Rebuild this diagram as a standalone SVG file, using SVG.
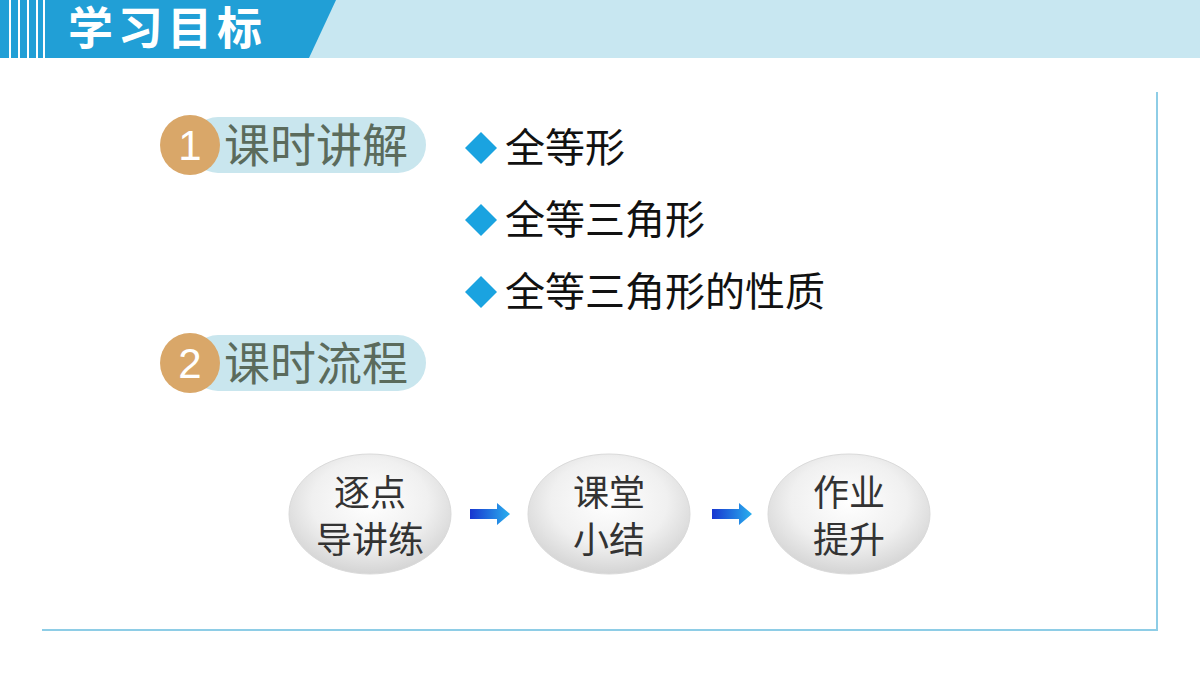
<svg xmlns="http://www.w3.org/2000/svg" width="1200" height="675" viewBox="0 0 1200 675">
<defs>
<style>
.cn{font-family:"Noto Sans CJK SC","Noto Sans",sans-serif}
.pill{fill:#C9E6EE}
.num{fill:#D9A769}
.pt{font-size:46px;fill:#5B6B5C}
.nt{font-size:42px;fill:#fff;font-family:"Liberation Sans",sans-serif}
.bt{font-size:40px;fill:#111}
.dia{fill:#1AA3E0}
.et{font-size:36px;fill:#333;text-anchor:middle}
.fr{stroke:#8ECDE6;stroke-width:2;fill:none}
</style>
<radialGradient id="eg" cx="0.5" cy="0.4" r="0.6">
<stop offset="0" stop-color="#FFFFFF"/><stop offset="0.6" stop-color="#F0F0F0"/><stop offset="1" stop-color="#D4D4D4"/>
</radialGradient>
<linearGradient id="ag" x1="0" x2="1" y1="0" y2="0">
<stop offset="0" stop-color="#1836D0"/><stop offset="1" stop-color="#2AB0EE"/>
</linearGradient>
</defs>
<rect width="1200" height="675" fill="#fff"/>
<g id="header">
<rect x="0" y="0" width="1200" height="58" fill="#C8E7F1"/>
<polygon points="0,0 336,0 309,58 0,58" fill="#219FD6"/>
<g fill="#fff"><rect x="9" y="0" width="2" height="58"/><rect x="18" y="0" width="2" height="58"/><rect x="27" y="0" width="2" height="58"/><rect x="36" y="0" width="2" height="58"/><rect x="43" y="0" width="2" height="58"/></g>
<text x="68" y="45" class="cn" font-size="45" font-weight="bold" fill="#fff" textLength="194" lengthAdjust="spacing">学习目标</text>
</g>
<g id="frame"><path class="fr" d="M1157,92 V630 H42"/></g>
<g id="sec1">
<rect class="pill" x="190" y="117" width="236" height="56" rx="28"/>
<circle class="num" cx="190" cy="145" r="30"/>
<text x="190" y="160" class="nt" text-anchor="middle">1</text>
<text x="224" y="162" class="cn pt">课时讲解</text>
</g>
<g id="sec2">
<rect class="pill" x="190" y="335" width="236" height="56" rx="28"/>
<circle class="num" cx="190" cy="363" r="30"/>
<text x="190" y="378" class="nt" text-anchor="middle">2</text>
<text x="224" y="380" class="cn pt">课时流程</text>
</g>
<g id="bullets">
<polygon class="dia" points="481,132 497,148 481,164 465,148"/>
<text x="505" y="162" class="cn bt">全等形</text>
<polygon class="dia" points="481,204 497,220 481,236 465,220"/>
<text x="505" y="234" class="cn bt">全等三角形</text>
<polygon class="dia" points="481,276 497,292 481,308 465,292"/>
<text x="505" y="306" class="cn bt">全等三角形的性质</text>
</g>
<g id="n1"><ellipse cx="370" cy="514" rx="81" ry="60" fill="url(#eg)" stroke="#DADADA"/>
<text x="370" y="506" class="cn et">逐点</text><text x="370" y="553" class="cn et">导讲练</text></g>
<g id="n2"><ellipse cx="609" cy="514" rx="81" ry="60" fill="url(#eg)" stroke="#DADADA"/>
<text x="609" y="506" class="cn et">课堂</text><text x="609" y="553" class="cn et">小结</text></g>
<g id="n3"><ellipse cx="849" cy="514" rx="81" ry="60" fill="url(#eg)" stroke="#DADADA"/>
<text x="849" y="506" class="cn et">作业</text><text x="849" y="553" class="cn et">提升</text></g>
<g id="connectors">
<polygon points="470,509 497,509 497,503 510,514 497,525 497,519 470,519" fill="url(#ag)"/>
<polygon points="712,509 739,509 739,503 752,514 739,525 739,519 712,519" fill="url(#ag)"/>
</g>
</svg>
